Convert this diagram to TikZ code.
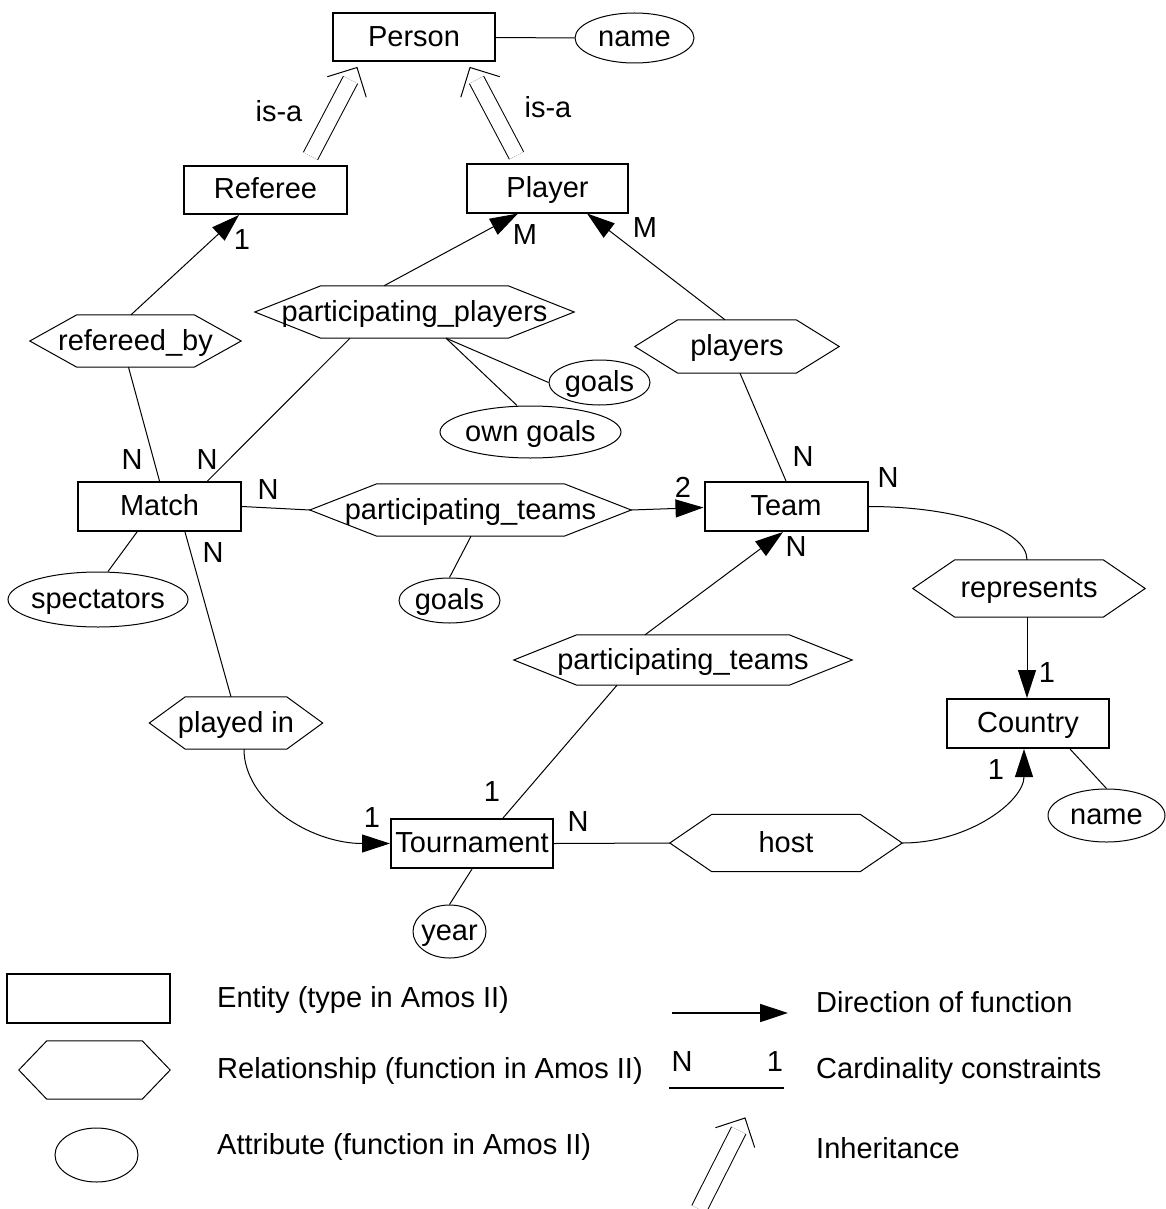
\documentclass[tikz,border=0pt]{standalone}
\usepackage{fontspec}
\setmainfont{Liberation Sans}
\usetikzlibrary{calc,arrows.meta,shapes.geometric}
\newcommand\isaarrow[2]{%
  \draw[line width=1pt, double=white, double distance=15pt, shorten >=14pt] (#1) -- (#2);
  \draw[line width=1pt] ($(#2)!22pt!(#1)!22pt!90:(#1)$) -- (#2) -- ($(#2)!22pt!(#1)!22pt!-90:(#1)$);}
\begin{document}
\begin{tikzpicture}[x=1pt,y=-1pt,
  every node/.style={font=\fontsize{29}{34}\selectfont, text height=22pt, text depth=4pt, inner sep=0pt},
  entity/.style={draw, line width=2pt, minimum width=162pt, minimum height=48pt},
  rel/.style={minimum height=52pt},
  attr/.style={draw, ellipse, line width=1pt},
  conn/.style={line width=1pt},
  fn/.style={line width=1pt, -{Triangle[length=28pt,width=18pt]}}]
\useasboundingbox (0,0) rectangle (1166,1209);

% entities
\node[entity] (person) at (414,37.5) {Person};
\node[entity, minimum width=163pt] (referee) at (265.5,190) {Referee};
\node[entity, minimum width=161pt] (player) at (547.5,188.5) {Player};
\node[entity, minimum width=163pt, minimum height=49pt] (match) at (159.5,506.5) {Match};
\node[entity, minimum width=163pt, minimum height=49pt] (team) at (786,506.5) {Team};
\node[entity, minimum height=49pt] (country) at (1028,723.5) {Country};
\node[entity, minimum height=49pt] (tournament) at (472,843.5) {Tournament};

% relationships
\node[rel, minimum width=211pt] (rb) at (135.5,341) {refereed\_by};
\node[rel, minimum width=319pt] (pp) at (414.5,312) {participating\_players};
\node[rel, minimum width=204pt, minimum height=53pt] (pl) at (737,346.5) {players};
\node[rel, minimum width=321pt] (pt1) at (470.5,510) {participating\_teams};
\node[rel, minimum width=338pt, minimum height=50pt] (pt2) at (683,660) {participating\_teams};
\node[rel, minimum width=173pt] (pi) at (236,723) {played in};
\node[rel, minimum width=232pt, minimum height=57pt] (rep) at (1029,588.5) {represents};
\node[rel, minimum width=232pt, minimum height=57pt] (host) at (786,843) {host};

% attributes
\node[attr, minimum width=119pt, minimum height=50pt] (pname) at (634.5,38) {name};
\node[attr, minimum width=101pt, minimum height=45pt] (goals1) at (599.5,382.5) {goals};
\node[attr, minimum width=181pt, minimum height=52pt, inner xsep=-1.5pt] (owngoals) at (530.5,432) {own goals};
\node[attr, minimum width=101pt, minimum height=45pt] (goals2) at (449.5,600.5) {goals};
\node[attr, minimum width=180pt, minimum height=55pt, inner xsep=-3.5pt] (spectators) at (98,599.5) {spectators};
\node[attr, minimum width=73pt, minimum height=53pt, inner xsep=-3pt] (year) at (449.5,931.5) {year};
\node[attr, minimum width=117pt, minimum height=53pt] (cname) at (1106.5,815.5) {name};

% legend shapes
\node[entity, minimum width=163pt, minimum height=49pt] (lent) at (88.5,998.5) {};
\node[rel, minimum width=151pt, minimum height=58pt] (lhex) at (94.5,1070) {};
\node[attr, minimum width=83pt, minimum height=54pt] (lattr) at (96.5,1155) {};

% hexagon outlines
\foreach \n/\a in {rb/47,pp/66,pl/43,pt1/67,pt2/63,pi/36,rep/42,host/42,lhex/28}
  \draw[line width=1pt] (\n.west) -- ([xshift=\a pt]\n.north west) -- ([xshift=-\a pt]\n.north east)
    -- (\n.east) -- ([xshift=-\a pt]\n.south east) -- ([xshift=\a pt]\n.south west) -- cycle;

% inheritance
\coordinate (isa1s) at ([xshift=45pt,yshift=9pt]referee.north);
\coordinate (isa1t) at ([xshift=-57pt,yshift=-5pt]person.south);
\coordinate (isa2s) at ([xshift=-31pt,yshift=8pt]player.north);
\coordinate (isa2t) at ([xshift=56pt,yshift=-5pt]person.south);
\isaarrow{isa1s}{isa1t}
\isaarrow{isa2s}{isa2t}
\node (isa1) at (279,113) {is-a};
\node (isa2) at (548,109) {is-a};

% connectors
\draw[conn] (person.east) -- (pname.west);
\draw[fn] ([xshift=-4.5pt]rb.north) -- ([xshift=-26.5pt]referee.south);
\draw[conn] ([xshift=-7pt]rb.south) -- (match.north);
\draw[fn] ([xshift=-30.5pt]pp.north) -- ([xshift=-29.5pt]player.south);
\draw[conn] ([xshift=-64.5pt]pp.south) -- ([xshift=48pt]match.north);
\draw[conn] ([xshift=31.5pt]pp.south) -- (goals1.west);
\draw[conn] ([xshift=31.5pt]pp.south) -- ([xshift=-13.5pt]owngoals.north);
\draw[fn] ([xshift=-12pt]pl.north) -- ([xshift=39.5pt]player.south);
\draw[conn] ([xshift=3pt]pl.south) -- (team.north);
\draw[conn] (match.east) -- (pt1.west);
\draw[fn] (pt1.east) -- ([yshift=-1pt]team.west);
\draw[conn] ([xshift=0.5pt]pt1.south) -- (goals2.north);
\draw[conn] ([xshift=-22.5pt]match.south) -- ([xshift=10pt]spectators.north);
\draw[conn] ([xshift=25.5pt]match.south) -- ([xshift=-5pt]pi.north);
\draw[fn] ([xshift=8pt]pi.south) .. controls +(0,52) and +(-80,0) .. (tournament.west);
\draw[fn] ([xshift=-38pt]pt2.north) -- ([xshift=-3pt]team.south);
\draw[conn] ([xshift=-66pt]pt2.south) -- ([xshift=31pt]tournament.north);
\draw[conn] (tournament.east) -- (host.west);
\draw[conn] (tournament.south) -- (year.north);
\draw[conn] (team.east) .. controls +(88,0) and +(0,-30) .. ([xshift=-2pt]rep.north);
\draw[fn] ([xshift=-2pt]rep.south) -- ([xshift=-1pt]country.north);
\draw[fn] (host.east) .. controls +(67,0) and +(0,52) .. ([xshift=-4pt]country.south);
\draw[conn] ([xshift=42pt]country.south) -- (cname.north);

% cardinality labels
\node (lb1) at (242,240) {1};
\node (lb2) at (525,235) {M};
\node (lb3) at (645,228) {M};
\node (lb4) at (132,460) {N};
\node (lb5) at (207,460) {N};
\node (lb6) at (268,490) {N};
\node (lb7) at (213,553) {N};
\node (lb8) at (683,488) {2};
\node (lb9) at (803,457) {N};
\node (lb10) at (888,478) {N};
\node (lb11) at (796,547) {N};
\node (lb12) at (1047,673) {1};
\node (lb13) at (372,818) {1};
\node (lb14) at (492,792) {1};
\node (lb15) at (578,822) {N};
\node (lb16) at (996,770) {1};

% legend
\node[anchor=west] (tent) at (217,998) {Entity (type in Amos II)};
\node[anchor=west] (trel) at (217,1069) {Relationship (function in Amos II)};
\node[anchor=west] (tattr) at (217,1145) {Attribute (function in Amos II)};
\coordinate (la1) at (672,1013);
\coordinate (la2) at (788,1013);
\draw[fn, line width=1.6pt] (la1) -- (la2);
\node[anchor=west] (tdir) at (816,1003) {Direction of function};
\node (lN) at (682,1062) {N};
\node (l1) at (775,1062) {1};
\coordinate (lc1) at (669,1088);
\coordinate (lc2) at (784,1088);
\draw[line width=1.6pt] (lc1) -- (lc2);
\node[anchor=west] (tcard) at (816,1069) {Cardinality constraints};
\coordinate (li1) at (699,1209);
\coordinate (li2) at (745,1118);
\isaarrow{li1}{li2}
\node[anchor=west] (tinh) at (816,1149) {Inheritance};
\end{tikzpicture}
\end{document}
